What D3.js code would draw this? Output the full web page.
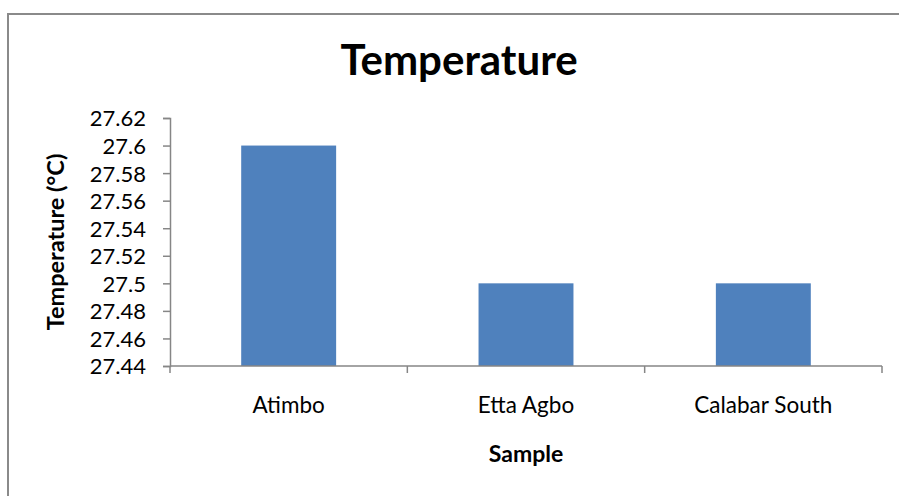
<!DOCTYPE html>
<html>
<head>
<meta charset="utf-8">
<script src="https://cdn.jsdelivr.net/npm/d3@7"></script>
<style>
  body { margin: 0; background: #fff; }
  svg { display: block; }
  text { font-family: Lato, "Open Sans", sans-serif; fill: #000; }
</style>
</head>
<body>
<svg id="chart" width="899" height="496"></svg>
<script>
const categories = ["Atimbo", "Etta Agbo", "Calabar South"];
const values = [27.6, 27.5, 27.5];
const yTicks = [27.44, 27.46, 27.48, 27.5, 27.52, 27.54, 27.56, 27.58, 27.6, 27.62];
const title = "Temperature";
const xTitle = "Sample";
const yTitle = "Temperature (°C)";

const svg = d3.select("#chart");
const margin = { left: 170, right: 17, top: 118, bottom: 130 };
const W = 899, H = 496;

// outer frame
svg.append("rect")
  .attr("x", 8).attr("y", 14)
  .attr("width", 898).attr("height", 490)
  .attr("fill", "none").attr("stroke", "#8a8a8a").attr("stroke-width", 2);

const x = d3.scaleBand()
  .domain(categories)
  .range([margin.left, W - margin.right])
  .paddingInner(0.6).paddingOuter(0.3);

const y = d3.scaleLinear()
  .domain([27.44, 27.62])
  .range([H - margin.bottom, margin.top]);

// bars
svg.append("g").selectAll("rect")
  .data(values)
  .join("rect")
  .attr("x", (d, i) => x(categories[i]))
  .attr("width", x.bandwidth())
  .attr("y", d => y(d))
  .attr("height", d => y(27.44) - y(d))
  .attr("fill", "#4f81bd");

// y axis
const yAxis = svg.append("g")
  .attr("transform", `translate(${margin.left},0)`)
  .call(d3.axisLeft(y).tickValues(yTicks).tickSize(7).tickPadding(17)
    .tickFormat(d => String(+d.toFixed(2))));
yAxis.select(".domain").attr("stroke", "#868686").attr("stroke-width", 1.5);
yAxis.selectAll(".tick line").attr("stroke", "#868686").attr("stroke-width", 1.5);
yAxis.selectAll(".tick text").style("font-size", "22px").attr("fill", "#000").attr("dy", "0.36em");

// x axis with ticks at category boundaries
const xAxisG = svg.append("g").attr("transform", `translate(0,${y(27.44)})`);
xAxisG.append("line")
  .attr("x1", margin.left).attr("x2", W - margin.right)
  .attr("stroke", "#868686").attr("stroke-width", 1.5);
const step = x.step();
const boundaries = d3.range(categories.length + 1).map(i => margin.left + i * step);
xAxisG.selectAll(".bt").data(boundaries).join("line")
  .attr("x1", d => d).attr("x2", d => d)
  .attr("y1", 0).attr("y2", 7)
  .attr("stroke", "#868686").attr("stroke-width", 1.5);
xAxisG.selectAll(".lbl").data(categories).join("text")
  .attr("x", d => x(d) + x.bandwidth() / 2)
  .attr("y", 47)
  .attr("text-anchor", "middle")
  .style("font-size", "22.5px")
  .text(d => d);

// titles
svg.append("text")
  .attr("x", 459).attr("y", 75)
  .attr("text-anchor", "middle")
  .style("font-size", "42px").style("font-weight", "bold")
  .text(title);

svg.append("text")
  .attr("x", (margin.left + W - margin.right) / 2).attr("y", 462)
  .attr("text-anchor", "middle")
  .style("font-size", "23px").style("font-weight", "bold")
  .text(xTitle);

svg.append("text")
  .attr("transform", `translate(64,${(y(27.44) + y(27.62)) / 2}) rotate(-90)`)
  .attr("text-anchor", "middle")
  .style("font-size", "23.5px").style("font-weight", "bold")
  .text(yTitle);
</script>
</body>
</html>
